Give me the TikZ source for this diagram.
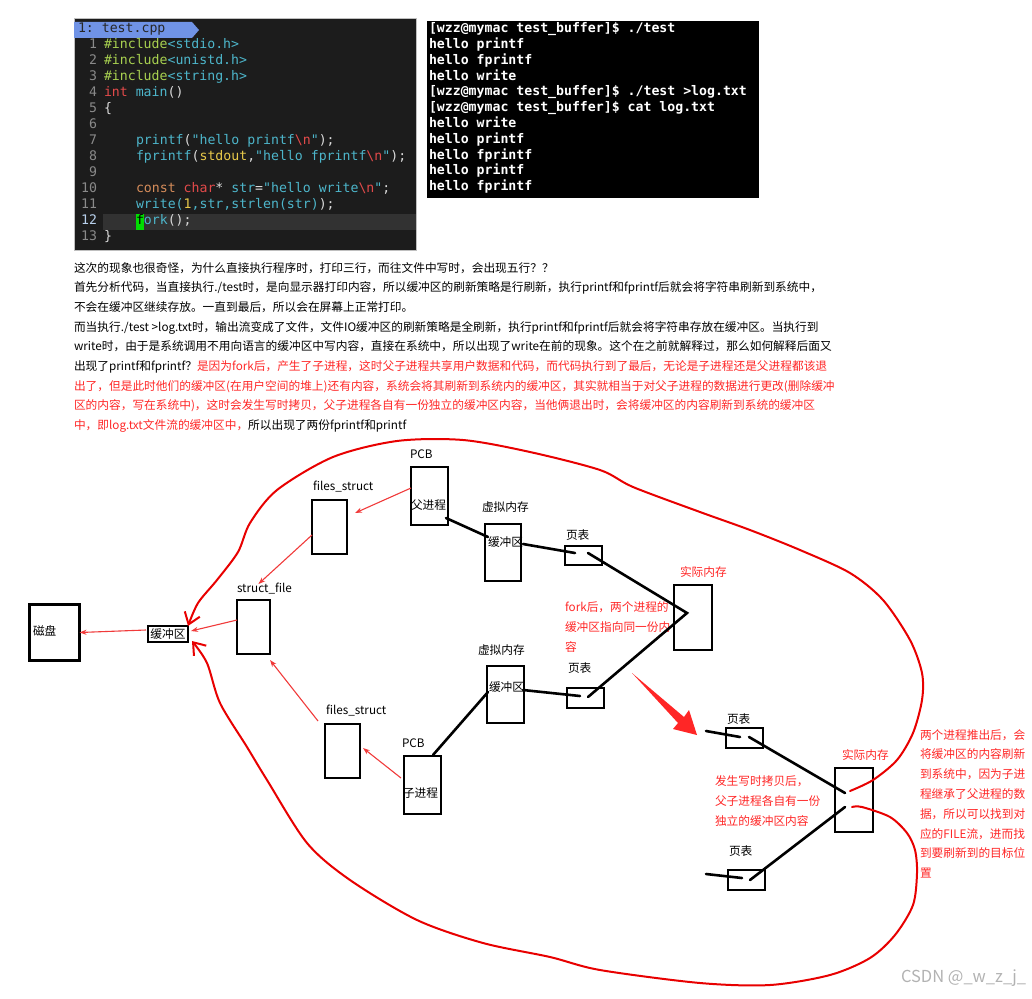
\documentclass[tikz,border=0pt]{standalone}
\usepackage{fontspec}
\setmainfont{Noto Sans CJK SC}
\setmonofont{DejaVu Sans Mono}
\usetikzlibrary{arrows.meta,positioning,calc}

\definecolor{cdbg}{HTML}{1C1C1C}
\definecolor{cdrow}{HTML}{323232}
\definecolor{cdnum}{HTML}{8A8A8A}
\definecolor{cdnumhi}{HTML}{B8D0EC}
\definecolor{cdpre}{HTML}{A8D150}
\definecolor{cdstr}{HTML}{4DB6CB}
\definecolor{cdkey}{HTML}{E24A4A}
\definecolor{cdtype}{HTML}{D58C5A}
\definecolor{cdyel}{HTML}{E8C94A}
\definecolor{cdtxt}{HTML}{DADADA}
\definecolor{cdtab}{HTML}{7093E6}
\definecolor{cdfork}{HTML}{00DD00}
\definecolor{note}{HTML}{FF2626}
\definecolor{flush}{HTML}{E80000}
\definecolor{ptr}{HTML}{F03A3A}

\newcommand{\cpre}[1]{\textcolor{cdpre}{#1}}
\newcommand{\cstr}[1]{\textcolor{cdstr}{#1}}
\newcommand{\ckey}[1]{\textcolor{cdkey}{#1}}
\newcommand{\ctyp}[1]{\textcolor{cdtype}{#1}}
\newcommand{\cyel}[1]{\textcolor{cdyel}{#1}}
\newcommand{\cnl}{\ckey{\textbackslash n}}
\newcommand{\notered}[1]{\textcolor{note}{#1}}

\begin{document}
\begin{tikzpicture}[x=1pt, y=-1pt,
    every node/.style={inner sep=0pt, outer sep=0pt},
    lbl/.style={anchor=west, font=\fontsize{11.7}{14}\selectfont,
                text height=0.8em, text depth=0.2em},
    redlbl/.style={lbl, text=note},
    blkbox/.style={draw=black, line width=2.6pt, font=\fontsize{11.7}{14}\selectfont},
    memlink/.style={draw=black, line width=2.6pt, line cap=round},
    ptrarrow/.style={draw=ptr, line width=1.1pt, -{Stealth[length=7pt,width=5pt]}},
    flushcurve/.style={draw=flush, line width=2pt, line cap=round,
                       -{Straight Barb[length=11pt,width=16pt,line width=2pt]}},
    codetxt/.style={anchor=west, font=\ttfamily\fontsize{13.2}{16}\selectfont,
                    text=cdtxt, text height=0.75em, text depth=0.2em},
    numtxt/.style={codetxt, anchor=east, text=cdnum},
    termtxt/.style={codetxt, text=white, font=\ttfamily\bfseries\fontsize{13.2}{16}\selectfont},
]
\useasboundingbox (0,0) rectangle (1032,998);

% -------- code window --------
\fill[cdbg, draw=black!25] (74,18) rectangle (416,250);
\fill[cdrow] (103,214) rectangle (416,230);
\fill[cdtab] (74,22) -- (192,22) -- (199,30) -- (192,38) -- (74,38) -- cycle;
\node[codetxt, text=black!85] (tab) at (78,30) {1: test.cpp};
\foreach \k in {1,...,11,13}{
  \node[numtxt] (ln\k) at (97,{46+16*(\k-1)}) {\k};
}
\node[numtxt, text=cdnumhi] (ln12) at (97,222) {12};
\fill[cdfork] (136,214) rectangle (144,230);

\node[codetxt] (c1)  at (104,46)  {\cpre{\#include}\cstr{<stdio.h>}};
\node[codetxt] (c2)  at (104,62)  {\cpre{\#include}\cstr{<unistd.h>}};
\node[codetxt] (c3)  at (104,78)  {\cpre{\#include}\cstr{<string.h>}};
\node[codetxt] (c4)  at (104,94)  {\ckey{int} \cstr{main}()};
\node[codetxt] (c5)  at (104,110) {\{};
\node[codetxt] (c7)  at (136,142) {\cstr{printf}(\cstr{"hello printf}\cnl\cstr{"});};
\node[codetxt] (c8)  at (136,158) {\cstr{fprintf}(\cyel{stdout},\cstr{"hello fprintf}\cnl\cstr{"});};
\node[codetxt] (c10) at (136,190) {\ctyp{const} \ckey{char}* \cstr{str}=\cstr{"hello write}\cnl\cstr{"};};
\node[codetxt] (c11) at (136,206) {\cstr{write(}\cyel{1}\cstr{,str,strlen(str)});};
\node[codetxt] (c12) at (136,222) {\textcolor{black}{f}\cstr{ork}();};
\node[codetxt] (c13) at (104,238) {\}};

% -------- terminal --------
\fill[black] (427,21) rectangle (759,198);
\foreach \t [count=\k] in {[wzz@mymac test\_buffer]\$ ./test, hello printf, hello fprintf,
    hello write, [wzz@mymac test\_buffer]\$ ./test >log.txt,
    [wzz@mymac test\_buffer]\$ cat log.txt, hello write, hello printf,
    hello fprintf, hello printf, hello fprintf}{
  \node[termtxt] (t\k) at (429,{30+15.8*(\k-1)}) {\t};
}

% -------- explanation text --------
\node[lbl] (p1) at (74,269) {这次的现象也很奇怪，为什么直接执行程序时，打印三行，而往文件中写时，会出现五行？？};
\node[lbl] (p2) at (74,288.7) {首先分析代码，当直接执行./test时，是向显示器打印内容，所以缓冲区的刷新策略是行刷新，执行printf和fprintf后就会将字符串刷新到系统中，};
\node[lbl] (p3) at (74,308.4) {不会在缓冲区继续存放。一直到最后，所以会在屏幕上正常打印。};
\node[lbl] (p4) at (74,328.1) {而当执行./test >log.txt时，输出流变成了文件，文件IO缓冲区的刷新策略是全刷新，执行printf和fprintf后就会将字符串存放在缓冲区。当执行到};
\node[lbl] (p5) at (74,347.8) {write时，由于是系统调用不用向语言的缓冲区中写内容，直接在系统中，所以出现了write在前的现象。这个在之前就解释过，那么如何解释后面又};
\node[lbl] (p6) at (74,367.5) {出现了printf和fprintf？\notered{是因为fork后，产生了子进程，这时父子进程共享用户数据和代码，而代码执行到了最后，无论是子进程还是父进程都该退}};
\node[redlbl] (p7) at (74,387.2) {出了，但是此时他们的缓冲区(在用户空间的堆上)还有内容，系统会将其刷新到系统内的缓冲区，其实就相当于对父子进程的数据进行更改(删除缓冲};
\node[redlbl] (p8) at (74,406.9) {区的内容，写在系统中)，这时会发生写时拷贝，父子进程各自有一份独立的缓冲区内容，当他俩退出时，会将缓冲区的内容刷新到系统的缓冲区};
\node[lbl] (p9) at (74,426.6) {\notered{中，即log.txt文件流的缓冲区中，}所以出现了两份fprintf和printf};

% -------- boxes --------
\node[blkbox, minimum width=50, minimum height=56] (disk) at (54.5,632.5) {};
\node[lbl] (diskL) at (33,632) {磁盘};
\node[blkbox, minimum width=40, minimum height=16] (cbuf) at (168,634) {缓冲区};
\node[blkbox, minimum width=33, minimum height=54] (sfile) at (253.5,627) {};
\node[lbl] (sfileL) at (237,589) {struct\_file};
\node[blkbox, minimum width=35, minimum height=54] (fsA) at (329.5,527) {};
\node[lbl] (fsAL) at (313,487) {files\_struct};
\node[blkbox, minimum width=37, minimum height=58] (pcbA) at (429.5,496) {};
\node[lbl] (pcbAL) at (410,455) {PCB};
\node[lbl] (pcbAT) at (411,506) {父进程};
\node[blkbox, minimum width=36, minimum height=57] (vmA) at (503,552.5) {};
\node[lbl] (vmAL) at (482,508) {虚拟内存};
\node[lbl] (vmAT) at (488,543) {缓冲区};
\node[blkbox, minimum width=37, minimum height=19] (ptA) at (583.5,555.5) {};
\node[lbl] (ptAL) at (566,536) {页表};
\node[blkbox, minimum width=38, minimum height=65] (memA) at (693,617.5) {};
\node[redlbl] (memAL) at (680,573) {实际内存};

\node[blkbox, minimum width=37, minimum height=57] (vmB) at (505.5,694.5) {};
\node[lbl] (vmBL) at (478,651) {虚拟内存};
\node[lbl] (vmBT) at (489,688) {缓冲区};
\node[blkbox, minimum width=37, minimum height=20] (ptB) at (585.5,698) {};
\node[lbl] (ptBL) at (568,669) {页表};
\node[blkbox, minimum width=35, minimum height=54] (fsB) at (342.5,751) {};
\node[lbl] (fsBL) at (326,711) {files\_struct};
\node[blkbox, minimum width=37, minimum height=58] (pcbB) at (422.5,785) {};
\node[lbl] (pcbBL) at (402,744) {PCB};
\node[lbl] (pcbBT) at (403,794) {子进程};

\node[blkbox, minimum width=37, minimum height=20] (ptC) at (744.5,738) {};
\node[lbl] (ptCL) at (727,720) {页表};
\node[blkbox, minimum width=38, minimum height=64] (memB) at (854,800) {};
\node[redlbl] (memBL) at (842,756) {实际内存};
\node[blkbox, minimum width=37, minimum height=20] (ptD) at (746.5,880) {};
\node[lbl] (ptDL) at (729,852) {页表};

% -------- red notes --------
\node[redlbl] (fk1) at (565,608) {fork后，两个进程的};
\node[redlbl] (fk2) at (565,628) {缓冲区指向同一份内};
\node[redlbl] (fk3) at (565,648) {容};
\node[redlbl] (cw1) at (715,782) {发生写时拷贝后，};
\node[redlbl] (cw2) at (715,802) {父子进程各自有一份};
\node[redlbl] (cw3) at (715,822) {独立的缓冲区内容};
\foreach \t [count=\k] in {两个进程推出后，会, 将缓冲区的内容刷新, 到系统中，因为子进,
    程继承了父进程的数, 据，所以可以找到对, 应的FILE流，进而找, 到要刷新到的目标位, 置}{
  \node[redlbl] (ex\k) at (920,{736+19.8*(\k-1)}) {\t};
}
\node[anchor=east, font=\fontsize{16.5}{19}\selectfont, text=black!30] (mark) at (1026,978) {CSDN @\_w\_z\_j\_};

% -------- hook points inside boxes --------
\coordinate (pcbAout) at (446,518);
\coordinate (vmAin)   at (488,537);
\coordinate (vmAout)  at (523,544);
\coordinate (ptAin)   at (575,553);
\coordinate (ptAout)  at (588,553);
\coordinate (memAv)   at (687,613);
\coordinate (ptBout)  at (588,697);
\coordinate (ptBin)   at (580,696);
\coordinate (pcbBout) at (433,755);
\coordinate (vmBin)   at (488,692);
\coordinate (vmBout)  at (523,690);
\coordinate (ptCtail) at (706,731);
\coordinate (ptCin)   at (740,737);
\coordinate (ptCout)  at (749,737);
\coordinate (memBup)  at (845,793);
\coordinate (memBdn)  at (845,807);
\coordinate (ptDout)  at (750,880);
\coordinate (ptDtail) at (706,874);
\coordinate (ptDin)   at (742,878);
\coordinate (memBtop) at (850,791);
\coordinate (memBbot) at (852,807);

% -------- black mappings --------
\draw[memlink] (pcbAout) -- (vmAin);
\draw[memlink] (vmAout) -- (ptAin);
\draw[memlink] (ptAout) -- (memAv) -- (ptBout);
\draw[memlink] (pcbBout) -- (vmBin);
\draw[memlink] (vmBout) -- (ptBin);
\draw[memlink] (ptCtail) -- (ptCin);
\draw[memlink] (ptCout) -- (memBup);
\draw[memlink] (memBdn) -- (ptDout);
\draw[memlink] (ptDtail) -- (ptDin);

% -------- thin red pointers --------
\draw[ptrarrow] ([xshift=-2pt,yshift=4pt]cbuf.west) -- (disk.east);
\draw[ptrarrow] ([yshift=7pt]sfile.west) -- ([xshift=3pt,yshift=3pt]cbuf.east);
\draw[ptrarrow] ([yshift=-8pt]fsA.west) -- ([xshift=-6pt]sfileL.north);
\draw[ptrarrow] ([yshift=8pt]pcbA.west) -- ([shift={(8pt,-13pt)}]fsA.north east);
\draw[ptrarrow] ([xshift=-7pt,yshift=3pt]fsB.north west) -- ([yshift=-6pt]sfile.south east);
\draw[ptrarrow] ([shift={(-3pt,7pt)}]pcbB.west) -- ([shift={(3pt,3pt)}]fsB.east);

% -------- big red flush curves --------
\draw[flushcurve] plot[smooth] coordinates {(memBtop) (873,780) (897,760) (913,733)
  (922,700) (922,673) (910,640) (883,600) (850,573) (800,550) (750,530) (700,512)
  (633,487) (600,470) (530,452) (463,440) (397,441) (333,457) (277,490) (250,523)
  (238,552) (217,580) (198,603) (cbuf.north east)};
\draw[flushcurve] plot[smooth] coordinates {(memBbot) (862,807) (890,817) (907,833)
  (915,850) (917,873) (913,905) (895,935) (870,958) (830,975) (770,985) (700,983)
  (600,970) (550,957) (483,943) (417,920) (350,880) (307,843) (267,780) (247,747)
  (220,703) (207,663) ([xshift=4pt,yshift=1pt]cbuf.south east)};

% fat arrow: after copy-on-write
\fill[note] (632,673) -- (684,717) -- (689,710) -- (697,735) -- (673,729) -- (678,723) -- cycle;

\end{tikzpicture}
\end{document}
